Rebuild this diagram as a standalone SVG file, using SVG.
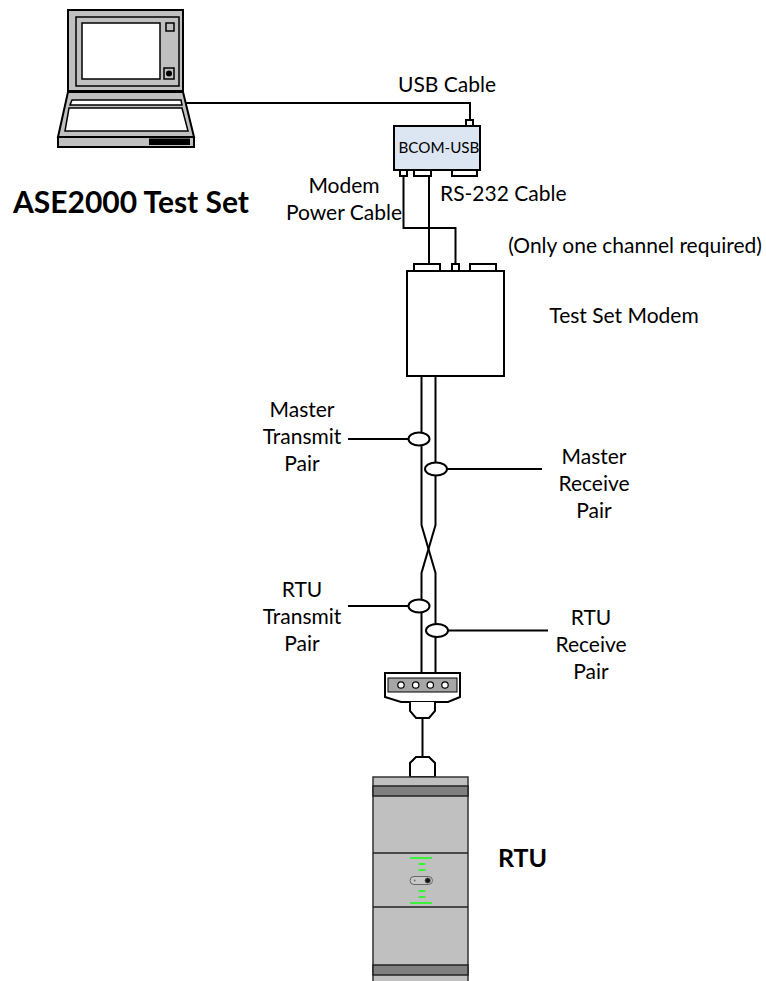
<svg xmlns="http://www.w3.org/2000/svg" width="766" height="981" viewBox="0 0 766 981">
  <style>
    .ln { fill: none; stroke: #000; stroke-width: 2; }
    .box { stroke: #000; stroke-width: 2; }
    .thin { stroke: #000; stroke-width: 1.5; }
    .lbl { font-family: Lato, "Liberation Sans", sans-serif; font-size: 21px; fill: #000; }
    .small { font-family: Lato, "Liberation Sans", sans-serif; font-size: 15.2px; fill: #000; }
    .ttl { font-family: Lato, "Liberation Sans", sans-serif; font-weight: bold; fill: #000; }
    .grn { stroke: #3cf03c; stroke-width: 2; }
  </style>

  <!-- laptop running the test set -->
  <g id="laptop">
    <rect x="68" y="10" width="115" height="81" fill="#c0c0c0" class="box"/>
    <rect x="76" y="17" width="103" height="69" fill="none" class="thin"/>
    <rect x="82" y="23" width="78" height="56" fill="#fff" class="thin"/>
    <rect x="166" y="23" width="8" height="8" fill="#c0c0c0" class="thin"/>
    <rect x="164" y="68" width="10" height="11" fill="#c0c0c0" class="thin"/>
    <circle cx="169" cy="73.5" r="3" fill="#000"/>
    <polygon points="68,92 183,92 194,137 58,137" fill="#c0c0c0" class="box"/>
    <polygon points="72,100 181,100 182,105 70,105" fill="#fff" class="thin"/>
    <polygon points="69,108 182,108 188,131 65,131" fill="#fff" class="thin"/>
    <rect x="58" y="137" width="136" height="10" fill="#c0c0c0" class="box"/>
    <rect x="149" y="138.5" width="41" height="6.5" fill="#000"/>
    <text x="13" y="213" class="ttl" style="font-size:30px">ASE2000 Test Set</text>
  </g>

  <!-- BCOM-USB adapter -->
  <g id="bcom-usb">
    <rect x="466" y="120" width="7" height="6" fill="#fff" class="box"/>
    <rect x="394" y="126" width="86" height="44" fill="#dce6f2" class="box"/>
    <rect x="400" y="170" width="7" height="6" fill="#fff" class="box"/>
    <rect x="414" y="170" width="17" height="6" fill="#fff" class="box"/>
    <rect x="452" y="170" width="25" height="6" fill="#fff" class="box"/>
    <text x="439" y="153" class="small" text-anchor="middle">BCOM-USB</text>
  </g>

  <!-- test set modem -->
  <g id="test-set-modem">
    <rect x="414" y="264" width="26" height="7" fill="#fff" class="box"/>
    <rect x="452" y="264" width="7" height="7" fill="#fff" class="box"/>
    <rect x="470" y="264" width="26" height="7" fill="#fff" class="box"/>
    <rect x="407" y="271" width="97" height="105" fill="#fff" class="box"/>
    <text x="624" y="323" class="lbl" text-anchor="middle">Test Set Modem</text>
  </g>

  <!-- line connector block and plugs -->
  <g id="line-connector">
    <path d="M385,673 H460 V697 L448,702 H401 L385,697 Z" fill="#fff" class="box"/>
    <rect x="388" y="678" width="69" height="14" fill="#a6a6a6" stroke="#000" stroke-width="1"/>
    <g fill="#fff" stroke="#000" stroke-width="1.2">
      <circle cx="401" cy="685" r="3.2"/>
      <circle cx="415.7" cy="685" r="3.2"/>
      <circle cx="430.3" cy="685" r="3.2"/>
      <circle cx="445" cy="685" r="3.2"/>
    </g>
    <path d="M410,702 V711 L416,718 H429 L435,711 V702" fill="#fff" class="box"/>
    <path d="M416,757 H429 L435,763 V777 H410 V763 Z" fill="#fff" class="box"/>
  </g>

  <!-- RTU -->
  <g id="rtu">
    <rect x="373" y="777" width="95" height="210" fill="#c0c0c0" stroke="#333" stroke-width="1.5"/>
    <rect x="373" y="786" width="95" height="10" fill="#808080" stroke="#222" stroke-width="1.5"/>
    <rect x="373" y="965" width="95" height="10" fill="#808080" stroke="#222" stroke-width="1.5"/>
    <line x1="373" y1="853" x2="468" y2="853" stroke="#222" stroke-width="1.5"/>
    <line x1="373" y1="907" x2="468" y2="907" stroke="#222" stroke-width="1.5"/>
    <line x1="410" y1="858" x2="432" y2="858" class="grn"/>
    <line x1="418.5" y1="864" x2="425.5" y2="864" class="grn"/>
    <line x1="418.5" y1="870" x2="425.5" y2="870" class="grn"/>
    <rect x="410" y="876.5" width="22.5" height="8" rx="4" fill="#c8c8c8" stroke="#666" stroke-width="1"/>
    <circle cx="414.7" cy="880.5" r="1" fill="#777"/>
    <circle cx="427.7" cy="880.5" r="2.6" fill="#111" stroke="#555" stroke-width="1"/>
    <line x1="418.5" y1="891" x2="425.5" y2="891" class="grn"/>
    <line x1="418.5" y1="897" x2="425.5" y2="897" class="grn"/>
    <line x1="410" y1="903" x2="432" y2="903" class="grn"/>
    <text x="498" y="867" class="ttl" style="font-size:25px">RTU</text>
  </g>

  <!-- cables and pair markers -->
  <g id="connectors">
    <polyline points="186,103 470,103 470,120" class="ln"/>
    <polyline points="403.5,176 403.5,228 455.5,228 455.5,264" class="ln"/>
    <line x1="429" y1="176" x2="429" y2="264" class="ln"/>
    <polyline points="421.5,376 421.5,525 435.5,573 435.5,673" class="ln"/>
    <polyline points="435.5,376 435.5,525 421.5,573 421.5,673" class="ln"/>
    <line x1="422.5" y1="718" x2="422.5" y2="757" class="ln"/>

    <line x1="348" y1="439" x2="408.5" y2="439" class="ln"/>
    <line x1="447" y1="469" x2="542" y2="469" class="ln"/>
    <line x1="348" y1="606" x2="408.5" y2="606" class="ln"/>
    <line x1="448" y1="630.5" x2="548" y2="630.5" class="ln"/>
    <g fill="#fff" class="box">
      <ellipse cx="419" cy="439" rx="10.5" ry="6.5"/>
      <ellipse cx="436" cy="469" rx="11" ry="6.5"/>
      <ellipse cx="419" cy="606" rx="10.5" ry="6.5"/>
      <ellipse cx="437" cy="630.5" rx="11" ry="6.5"/>
    </g>
  </g>

  <!-- cable and pair labels -->
  <g id="labels" class="lbl" text-anchor="middle">
    <text x="447" y="92">USB Cable</text>
    <text x="344" y="193">Modem</text>
    <text x="344" y="220">Power Cable</text>
    <text x="440" y="201" text-anchor="start">RS-232 Cable</text>
    <text x="635" y="253">(Only one channel required)</text>
    <text x="302" y="417">Master</text>
    <text x="302" y="444">Transmit</text>
    <text x="302" y="471">Pair</text>
    <text x="594" y="464">Master</text>
    <text x="594" y="491">Receive</text>
    <text x="594" y="518">Pair</text>
    <text x="302" y="597">RTU</text>
    <text x="302" y="624">Transmit</text>
    <text x="302" y="651">Pair</text>
    <text x="591" y="625">RTU</text>
    <text x="591" y="652">Receive</text>
    <text x="591" y="679">Pair</text>
  </g>
</svg>
